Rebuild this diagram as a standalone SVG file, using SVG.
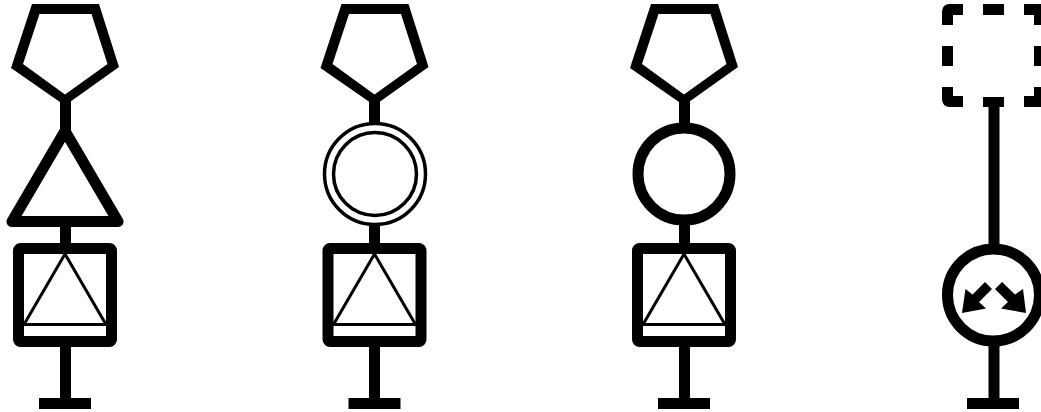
<svg xmlns="http://www.w3.org/2000/svg" width="1041" height="412" viewBox="0 0 1041 412">
<style>
.k{fill:none;stroke:#000;stroke-width:11}
.r{stroke-linejoin:round}
.t{fill:none;stroke:#000;stroke-width:3;stroke-linejoin:miter}
.s{fill:#000;stroke:none}
.e{fill:#000;fill-rule:evenodd}
</style>
<defs>
<g id="penta"><path class="e" d="M-33 4H34L54 67L0 105.500L-54 68ZM-25.500 14L-42 64L0 94.500L42.500 64L26.500 14Z"/></g>
<g id="box"><rect class="k r" x="-46.500" y="248.500" width="93" height="93" rx="2"/><path class="t" d="M0 254L-41 324.500H41Z"/></g>
<g id="foot"><rect class="s" x="-26" y="398" width="52" height="11"/></g>
</defs>
<rect width="1041" height="412" fill="#fff"/>
<g id="connectors" class="s">
<rect x="60" y="100" width="11" height="32"/><rect x="60" y="226" width="11" height="18"/><rect x="60" y="346" width="11" height="54"/>
<rect x="369" y="100" width="11" height="23"/><rect x="369" y="226" width="11" height="18"/><rect x="369" y="346" width="11" height="54"/>
<rect x="679" y="100" width="11" height="24"/><rect x="679" y="224" width="11" height="20"/><rect x="679" y="346" width="11" height="54"/>
<rect x="988.500" y="106" width="11" height="140"/><rect x="988.500" y="344" width="11" height="56"/>
</g>
<g id="pentagon-1" transform="translate(65 0)"><use href="#penta"/></g>
<g id="triangle-1"><path class="k r" d="M65 131L118 221.500H12Z"/></g>
<g id="box-1" transform="translate(65 0)"><use href="#box"/></g>
<g id="foot-1" transform="translate(65 0)"><use href="#foot"/></g>
<g id="pentagon-2" transform="translate(374.500 0)"><use href="#penta"/></g>
<g id="double-circle"><circle cx="375" cy="174" r="50.500" fill="none" stroke="#000" stroke-width="3.500"/><circle cx="375" cy="174" r="41.500" fill="none" stroke="#000" stroke-width="3.500"/></g>
<g id="box-2" transform="translate(374.500 0)"><use href="#box"/></g>
<g id="foot-2" transform="translate(374.500 0)"><use href="#foot"/></g>
<g id="pentagon-3" transform="translate(684 0)"><use href="#penta"/></g>
<g id="circle-3"><circle class="k" cx="684" cy="174" r="46"/></g>
<g id="box-3" transform="translate(684 0)"><use href="#box"/></g>
<g id="foot-3" transform="translate(684 0)"><use href="#foot"/></g>
<g id="dashed-box">
<path class="k" d="M963 9.500H949.500Q947.500 9.500 947.500 11.500V25"/>
<rect class="s" x="983" y="4" width="21" height="11"/>
<path class="k" d="M1024 9.500H1039.500V25"/>
<rect class="s" x="942" y="46" width="11" height="20"/>
<rect class="s" x="1034" y="46" width="11" height="20"/>
<path class="k" d="M947.500 87V99.500Q947.500 101.500 949.500 101.500H963"/>
<rect class="s" x="983" y="97" width="21" height="10"/>
<path class="k" d="M1024 101.500H1039.500V87"/>
</g>
<g id="circle-4">
<circle class="k" cx="993.500" cy="295" r="46"/>
<polygon class="s" points="962,313 965.500,289 972.500,294.500 985,282 992,289 979,302 986,308.500"/>
<polygon class="s" points="1026,313 1023,289 1015,294.500 1002,282 995,289 1008,302 1001,308.500"/>
</g>
<g id="foot-4" transform="translate(993 0)"><use href="#foot"/></g>
</svg>
